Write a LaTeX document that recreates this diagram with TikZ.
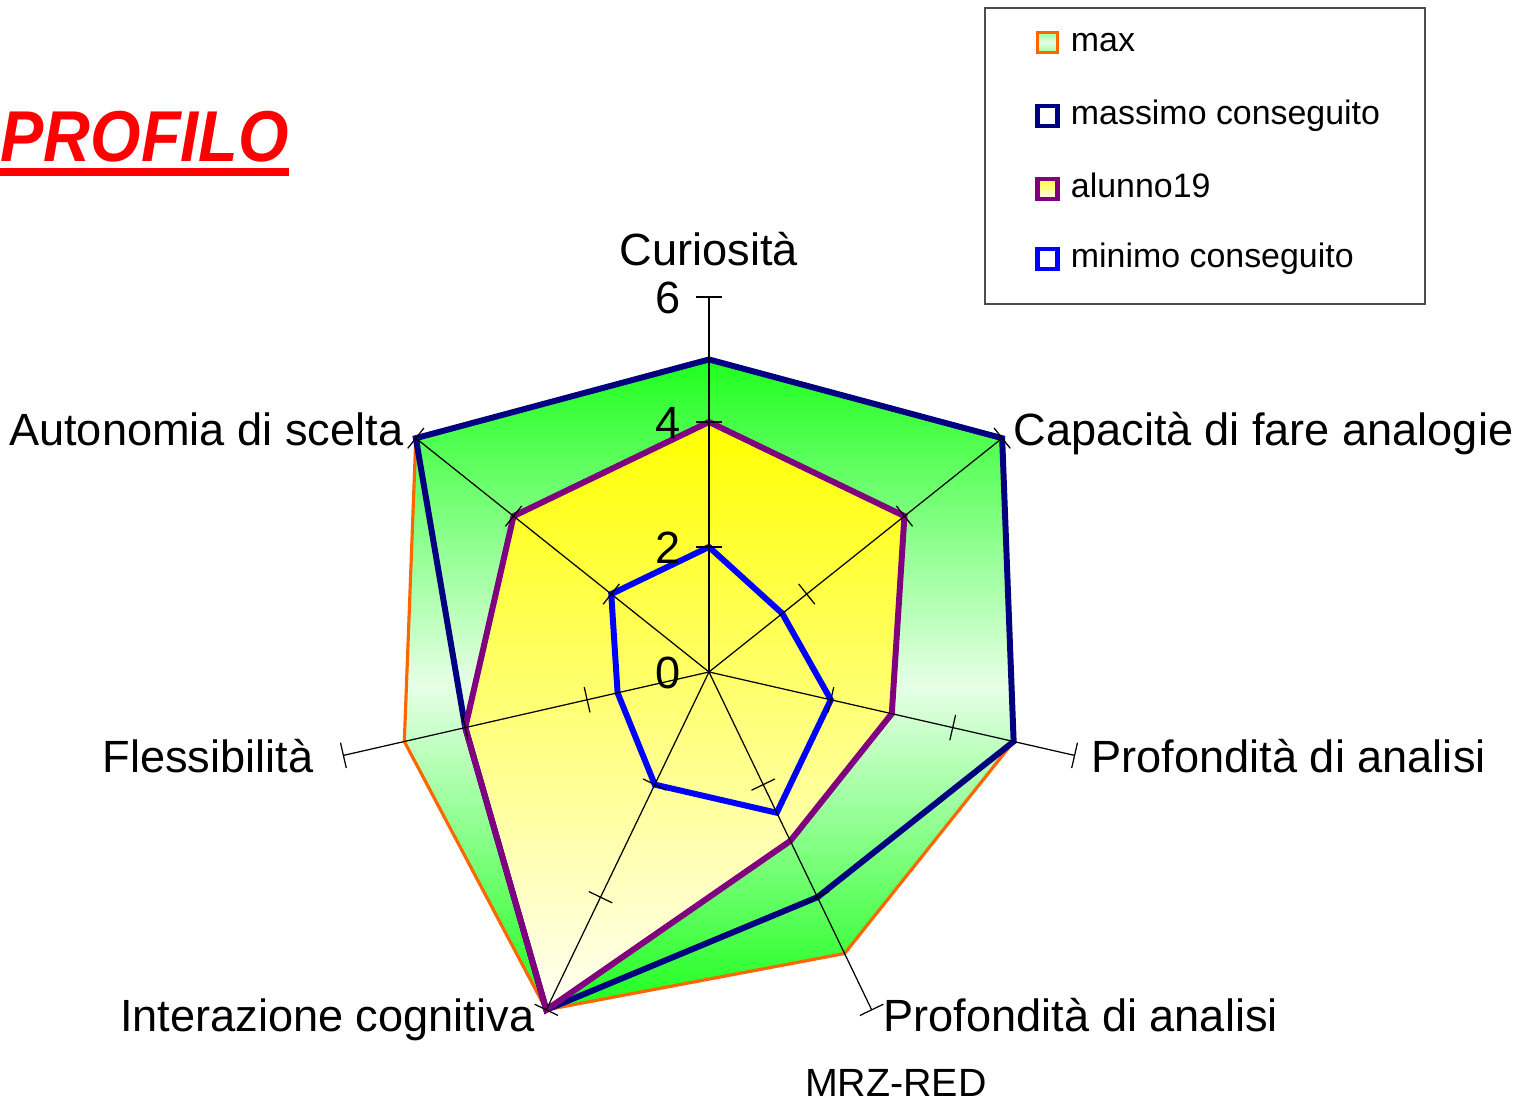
\documentclass[tikz,border=0pt]{standalone}
\usepackage{fontspec}
\setmainfont{Liberation Sans}
\definecolor{maxorange}{RGB}{255,102,0}
\definecolor{massnavy}{RGB}{0,0,128}
\definecolor{alunnopurple}{RGB}{128,0,128}
\definecolor{minblue}{RGB}{0,0,255}
\definecolor{maxgreen}{RGB}{30,255,30}
\definecolor{maxpale}{RGB}{230,255,230}
\definecolor{alunnoyellow}{RGB}{255,255,0}
\definecolor{alunnopale}{RGB}{255,255,244}
\definecolor{titlered}{RGB}{255,0,0}

\begin{document}
\begin{tikzpicture}[
        x=0.625cm, y=0.625cm,
        font=\fontsize{12.85}{15}\selectfont
    ]
    \tikzset{
        axisline/.style = {draw=black, line width=0.35pt},
        maxarea/.style = {draw=maxorange, line width=0.9pt, top color=maxgreen, bottom color=maxgreen, middle color=maxpale},
        alunnoarea/.style = {top color=alunnoyellow, bottom color=alunnopale},
        seriesline/.style = {line width=1.7pt, line join=miter},
        axislabel/.style = {inner sep=0pt},
        scalelabel/.style = {inner sep=0pt, anchor=base east},
        legmark/.style = {rectangle, minimum size=0.2cm, inner sep=0pt, line width=1.4pt, fill=white},
        legtext/.style = {inner sep=0pt, anchor=base west, font=\fontsize{9.65}{11.5}\selectfont},
        titletext/.style = {inner sep=0pt, anchor=base west, text=titlered, font=\fontsize{20.5}{24}\selectfont\bfseries\itshape, xscale=0.9, transform shape},
    }
    \useasboundingbox (-11.344,-6.864) rectangle (12.976,10.752);

    % areas
    \path[maxarea] (90:5) -- (38.571:6) -- (-12.857:5) -- (-64.286:5) -- (-115.714:6) -- (-167.143:5) -- (141.429:6) -- cycle;
    \path[alunnoarea] (90:4) -- (38.571:4) -- (-12.857:3) -- (-64.286:3) -- (-115.714:6) -- (-167.143:4) -- (141.429:4) -- cycle;

    % series
    \draw[seriesline, massnavy] (90:5) -- (38.571:6) -- (-12.857:5) -- (-64.286:4) -- (-115.714:6) -- (-167.143:4) -- (141.429:6) -- cycle;
    \draw[seriesline, alunnopurple] (90:4) -- (38.571:4) -- (-12.857:3) -- (-64.286:3) -- (-115.714:6) -- (-167.143:4) -- (141.429:4) -- cycle;
    \draw[seriesline, minblue] (90:2) -- (38.571:1.5) -- (-12.857:2) -- (-64.286:2.5) -- (-115.714:2) -- (-167.143:1.5) -- (141.429:2) -- cycle;

    % axes with ticks
    \foreach \ang in {90,38.571,-12.857,-64.286,-115.714,-167.143,141.429} {
        \draw[axisline, rotate=\ang] (0,0) -- (6,0);
        \foreach \r in {2,4,6}
            \draw[axisline, rotate=\ang] (\r,-0.208) -- (\r,0.208);
    }
    \node[scalelabel] (sc6) at (-0.45,5.73) {6};
    \node[scalelabel] (sc4) at (-0.45,3.73) {4};
    \node[scalelabel] (sc2) at (-0.45,1.73) {2};
    \node[scalelabel] (sc0) at (-0.45,-0.27) {0};

    \node[axislabel, anchor=base] (lcur) at (0,6.50) {Curiosità};
    \node[axislabel, anchor=base west] (lcap) at (4.864,3.616) {Capacità di fare analogie};
    \node[axislabel, anchor=base west] (lprofa) at (6.11,-1.616) {Profondità di analisi};
    \node[axislabel, anchor=base west] (lprofb) at (2.784,-5.76) {Profondità di analisi};
    \node[axislabel, anchor=base east] (linter) at (-2.784,-5.76) {Interazione cognitiva};
    \node[axislabel, anchor=base east] (lfless) at (-6.32,-1.616) {Flessibilità};
    \node[axislabel, anchor=base east] (lauto) at (-4.88,3.616) {Autonomia di scelta};
    \node[axislabel, anchor=base, font=\fontsize{11.2}{13}\selectfont] (mrz) at (2.99,-6.80) {MRZ-RED};

    % title
    \node[titletext] (title) at (-11.344,8.16) {PROFILO};
    \draw[titlered, line width=2.3pt] ([yshift=-0.1cm]title.base west) -- ([yshift=-0.1cm]title.base east);

    % legend
    \node[rectangle, draw=black!70, line width=0.5pt, minimum width=4.4cm, minimum height=2.96cm, anchor=north west, inner sep=0pt] (legendbox) at (4.4,10.64) {};
    \node[legmark, draw=maxorange, line width=1pt, top color=maxgreen!45, bottom color=maxgreen!45, middle color=maxpale] (mkmax) at (5.416,10.07) {};
    \node[legtext] (txmax) at (5.78,9.92) {max};
    \node[legmark, draw=massnavy] (mkmass) at (5.416,8.896) {};
    \node[legtext] (txmass) at (5.78,8.752) {massimo conseguito};
    \node[legmark, draw=alunnopurple, top color=alunnoyellow!80, bottom color=alunnopale] (mkalu) at (5.416,7.728) {};
    \node[legtext] (txalu) at (5.78,7.584) {alunno19};
    \node[legmark, draw=minblue] (mkmin) at (5.416,6.608) {};
    \node[legtext] (txmin) at (5.78,6.464) {minimo conseguito};
\end{tikzpicture}
\end{document}
